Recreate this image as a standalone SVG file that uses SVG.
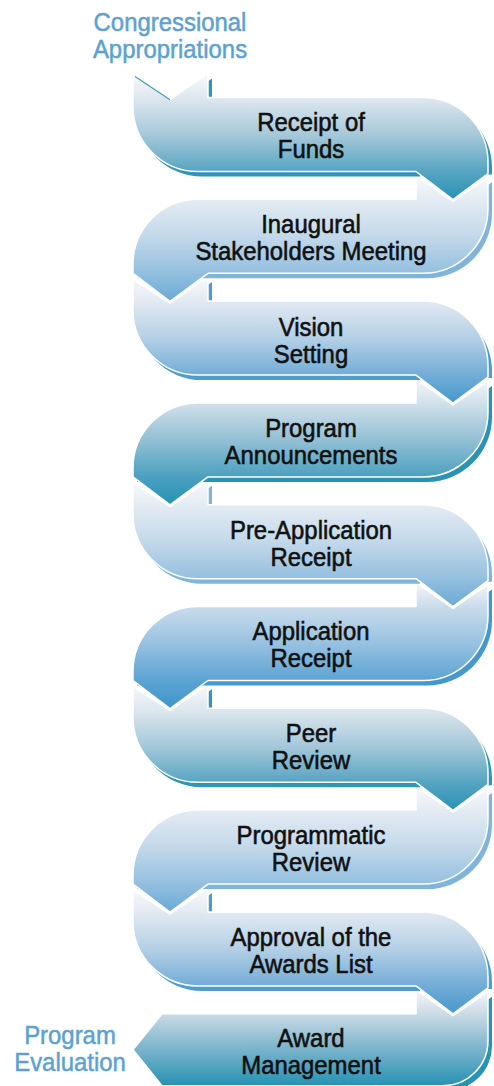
<svg xmlns="http://www.w3.org/2000/svg" width="494" height="1086" viewBox="0 0 494 1086">
<defs>
<style>
.lbl{font-family:"Liberation Sans",Arial,sans-serif;font-size:26px;fill:#111;stroke:#111;stroke-width:0.6;text-anchor:middle}
.ext{font-family:"Liberation Sans",Arial,sans-serif;font-size:26px;fill:#5ba2d2;stroke:#5ba2d2;stroke-width:0.5;text-anchor:middle}
.shape{stroke:#fff;stroke-width:1.5;stroke-linejoin:round}
</style>
<linearGradient id="gTeal" x1="0" y1="0" x2="0" y2="1">
<stop offset="0" stop-color="#f8fafc"/><stop offset="0.19" stop-color="#dfe8ef"/><stop offset="0.48" stop-color="#a7c9da"/><stop offset="0.78" stop-color="#56a4c2"/><stop offset="1" stop-color="#2893b3"/>
</linearGradient>
<linearGradient id="gLight" x1="0" y1="0" x2="0" y2="1">
<stop offset="0" stop-color="#f8fafc"/><stop offset="0.19" stop-color="#e4ecf3"/><stop offset="0.48" stop-color="#c3d9ea"/><stop offset="0.78" stop-color="#93bfdf"/><stop offset="1" stop-color="#69a9d4"/>
</linearGradient>
<linearGradient id="gMid" x1="0" y1="0" x2="0" y2="1">
<stop offset="0" stop-color="#f8fafc"/><stop offset="0.19" stop-color="#e2eaf2"/><stop offset="0.48" stop-color="#b5d0e6"/><stop offset="0.78" stop-color="#72acd7"/><stop offset="1" stop-color="#4598ca"/>
</linearGradient>
<linearGradient id="gDTeal" x1="0" y1="0" x2="0" y2="1">
<stop offset="0" stop-color="#f4f7fa"/><stop offset="0.19" stop-color="#d2e1eb"/><stop offset="0.48" stop-color="#93c0d5"/><stop offset="0.78" stop-color="#4ba0c0"/><stop offset="1" stop-color="#2692b2"/>
</linearGradient>
<linearGradient id="gDBlue" x1="0" y1="0" x2="0" y2="1">
<stop offset="0" stop-color="#f4f7fa"/><stop offset="0.19" stop-color="#cadcec"/><stop offset="0.48" stop-color="#98c2e1"/><stop offset="0.78" stop-color="#5ba3d3"/><stop offset="1" stop-color="#3f95c9"/>
</linearGradient>
<linearGradient id="gLast" x1="0" y1="0" x2="0" y2="1">
<stop offset="0" stop-color="#f6f8fb"/><stop offset="0.25" stop-color="#cbdbe6"/><stop offset="0.6" stop-color="#7eb5cd"/><stop offset="1" stop-color="#2692b2"/>
</linearGradient>
</defs>

<g id="connectors"></g>

<g id="node-10" transform="translate(0,1013.7)">
<path transform="translate(4,5)" fill="#2a93b3" d="M488,-22 L453,2 L416,-24 L416,0 L162,0 L133,36 L162,72 L443,72 A45,45 0 0 0 488,27 Z"/>
<path class="shape" fill="url(#gLast)" d="M488,-22 L453,2 L416,-24 L416,0 L162,0 L133,36 L162,72 L443,72 A45,45 0 0 0 488,27 Z"/>
<g transform="translate(311,0) scale(0.92,1)"><text class="lbl" y="33.5">Award</text><text class="lbl" y="60.5">Management</text></g>
</g>

<g id="node-9" transform="translate(0,911.9)">
<path transform="translate(4,5)" fill="#4f9dcd" d="M133,-22 L170,2 L208,-24 L208,0 L423,0 A65,65 0 0 1 488,65 L488,72 L416,72 L416,74 L198,74 A65,65 0 0 1 133,9 Z"/>
<path class="shape" fill="url(#gMid)" d="M133,-22 L170,2 L208,-24 L208,0 L423,0 A65,65 0 0 1 488,65 L488,76 L453,102 L416,74 L198,74 A65,65 0 0 1 133,9 Z"/>
<g transform="translate(311,0) scale(0.92,1)"><text class="lbl" y="34">Approval of the</text><text class="lbl" y="61">Awards List</text></g>
</g>

<g id="node-8" transform="translate(0,810.1)">
<path transform="translate(4,5)" fill="#7fb5da" d="M488,-22 L453,2 L416,-24 L416,0 L198,0 A65,65 0 0 0 133,65 L133,74 L423,74 A65,65 0 0 0 488,9 Z"/>
<path class="shape" fill="url(#gLight)" d="M488,-22 L453,2 L416,-24 L416,0 L198,0 A65,65 0 0 0 133,65 L133,74 L170,102 L208,74 L423,74 A65,65 0 0 0 488,9 Z"/>
<g transform="translate(311,0) scale(0.92,1)"><text class="lbl" y="34">Programmatic</text><text class="lbl" y="61">Review</text></g>
</g>

<g id="node-7" transform="translate(0,708.3)">
<path transform="translate(4,5)" fill="#2f96b6" d="M133,-22 L170,2 L208,-24 L208,0 L423,0 A65,65 0 0 1 488,65 L488,72 L416,72 L416,74 L198,74 A65,65 0 0 1 133,9 Z"/>
<path class="shape" fill="url(#gTeal)" d="M133,-22 L170,2 L208,-24 L208,0 L423,0 A65,65 0 0 1 488,65 L488,76 L453,102 L416,74 L198,74 A65,65 0 0 1 133,9 Z"/>
<g transform="translate(311,0) scale(0.92,1)"><text class="lbl" y="34">Peer</text><text class="lbl" y="61">Review</text></g>
</g>

<g id="node-6" transform="translate(0,606.5)">
<path transform="translate(4,5)" fill="#4598cb" d="M488,-22 L453,2 L416,-24 L416,0 L198,0 A65,65 0 0 0 133,65 L133,74 L423,74 A65,65 0 0 0 488,9 Z"/>
<path class="shape" fill="url(#gDBlue)" d="M488,-22 L453,2 L416,-24 L416,0 L198,0 A65,65 0 0 0 133,65 L133,74 L170,102 L208,74 L423,74 A65,65 0 0 0 488,9 Z"/>
<g transform="translate(311,0) scale(0.92,1)"><text class="lbl" y="34">Application</text><text class="lbl" y="61">Receipt</text></g>
</g>

<g id="node-5" transform="translate(0,504.7)">
<path transform="translate(4,5)" fill="#7fb5da" d="M133,-22 L170,2 L208,-24 L208,0 L423,0 A65,65 0 0 1 488,65 L488,72 L416,72 L416,74 L198,74 A65,65 0 0 1 133,9 Z"/>
<path class="shape" fill="url(#gLight)" d="M133,-22 L170,2 L208,-24 L208,0 L423,0 A65,65 0 0 1 488,65 L488,76 L453,102 L416,74 L198,74 A65,65 0 0 1 133,9 Z"/>
<g transform="translate(311,0) scale(0.92,1)"><text class="lbl" y="34">Pre-Application</text><text class="lbl" y="61">Receipt</text></g>
</g>

<g id="node-4" transform="translate(0,402.9)">
<path transform="translate(4,5)" fill="#2a93b3" d="M488,-22 L453,2 L416,-24 L416,0 L198,0 A65,65 0 0 0 133,65 L133,74 L423,74 A65,65 0 0 0 488,9 Z"/>
<path class="shape" fill="url(#gDTeal)" d="M488,-22 L453,2 L416,-24 L416,0 L198,0 A65,65 0 0 0 133,65 L133,74 L170,102 L208,74 L423,74 A65,65 0 0 0 488,9 Z"/>
<g transform="translate(311,0) scale(0.92,1)"><text class="lbl" y="34">Program</text><text class="lbl" y="61">Announcements</text></g>
</g>

<g id="node-3" transform="translate(0,301.1)">
<path transform="translate(4,5)" fill="#4f9dcd" d="M133,-22 L170,2 L208,-24 L208,0 L423,0 A65,65 0 0 1 488,65 L488,72 L416,72 L416,74 L198,74 A65,65 0 0 1 133,9 Z"/>
<path class="shape" fill="url(#gMid)" d="M133,-22 L170,2 L208,-24 L208,0 L423,0 A65,65 0 0 1 488,65 L488,76 L453,102 L416,74 L198,74 A65,65 0 0 1 133,9 Z"/>
<g transform="translate(311,0) scale(0.92,1)"><text class="lbl" y="34.5">Vision</text><text class="lbl" y="61.5">Setting</text></g>
</g>

<g id="node-2" transform="translate(0,199.3)">
<path transform="translate(4,5)" fill="#7fb5da" d="M488,-22 L453,2 L416,-24 L416,0 L198,0 A65,65 0 0 0 133,65 L133,74 L423,74 A65,65 0 0 0 488,9 Z"/>
<path class="shape" fill="url(#gLight)" d="M488,-22 L453,2 L416,-24 L416,0 L198,0 A65,65 0 0 0 133,65 L133,74 L170,102 L208,74 L423,74 A65,65 0 0 0 488,9 Z"/>
<g transform="translate(311,0) scale(0.92,1)"><text class="lbl" y="34">Inaugural</text><text class="lbl" y="61">Stakeholders Meeting</text></g>
</g>

<g id="node-1" transform="translate(0,97.5)">
<path transform="translate(4,5)" fill="#2f96b6" d="M133,-22 L170,2 L208,-24 L208,0 L423,0 A65,65 0 0 1 488,65 L488,72 L416,72 L416,74 L198,74 A65,65 0 0 1 133,9 Z"/>
<path class="shape" fill="url(#gTeal)" d="M133,-22 L170,2 L208,-24 L208,0 L423,0 A65,65 0 0 1 488,65 L488,76 L453,102 L416,74 L198,74 A65,65 0 0 1 133,9 Z"/>
<line x1="135" y1="-21" x2="170" y2="2.2" stroke="#3a9bbd" stroke-width="1.2"/>
<g transform="translate(311,0) scale(0.92,1)"><text class="lbl" y="33.5">Receipt of</text><text class="lbl" y="60.5">Funds</text></g>
</g>

<g id="start-label" transform="translate(170,0) scale(0.92,1)">
<text class="ext" y="31">Congressional</text><text class="ext" y="58">Appropriations</text>
</g>
<g id="end-label" transform="translate(70,0) scale(0.92,1)">
<text class="ext" y="1044">Program</text><text class="ext" y="1071">Evaluation</text>
</g>
</svg>
